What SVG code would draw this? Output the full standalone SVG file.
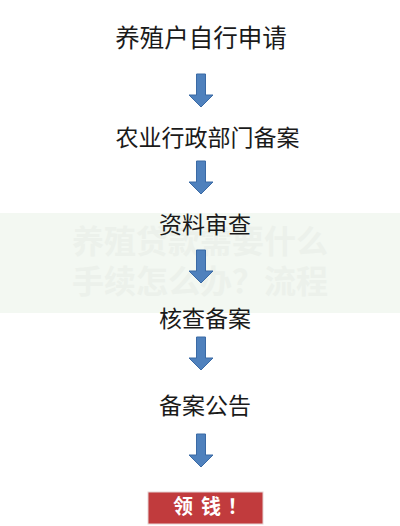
<svg xmlns="http://www.w3.org/2000/svg" width="400" height="526" viewBox="0 0 400 526">
  <style>
    .step { font-family: "Noto Sans CJK SC", "Noto Sans", sans-serif; font-size: 23px; fill: #1a1a1a; text-anchor: middle; }
    .arrow { fill: #4f81bd; stroke: #3a6aa5; stroke-width: 1; }
    .wm { font-family: "Noto Sans CJK SC", sans-serif; font-size: 32px; font-weight: bold; fill: #ecf1eb; text-anchor: middle; }
    .btn-text { font-family: "Noto Sans CJK SC", sans-serif; font-size: 20px; font-weight: bold; fill: #ffffff; }
  </style>
  <defs>
    <path id="arr" d="M -4.5 0 H 4.5 V 21 H 12 L 0 33 L -12 21 H -4.5 Z"/>
  </defs>
  <rect width="400" height="526" fill="#ffffff"/>

  <g id="watermark">
    <rect x="0" y="213" width="400" height="100" fill="#f3f8f2"/>
    <text class="wm" x="200" y="253">养殖贷款需要什么</text>
    <text class="wm" x="200" y="293">手续怎么办？流程</text>
  </g>

  <g id="connectors">
    <use href="#arr" class="arrow" x="201" y="74"/>
    <use href="#arr" class="arrow" x="201" y="161"/>
    <use href="#arr" class="arrow" x="201" y="250"/>
    <use href="#arr" class="arrow" x="201" y="337"/>
    <use href="#arr" class="arrow" x="201" y="434"/>
  </g>

  <g id="node1"><text class="step" x="201" y="46.5" style="font-size:24.5px">养殖户自行申请</text></g>
  <g id="node2"><text class="step" x="207.5" y="146">农业行政部门备案</text></g>
  <g id="node3"><text class="step" x="205" y="232.5">资料审查</text></g>
  <g id="node4"><text class="step" x="205" y="326.5">核查备案</text></g>
  <g id="node5"><text class="step" x="205" y="413.5">备案公告</text></g>

  <g id="node6">
    <rect x="148" y="492" width="115" height="32" fill="#c13b3d" stroke="#e6d4d4" stroke-width="1"/>
    <text class="btn-text" y="513.5"><tspan x="173">领</tspan><tspan x="201">钱</tspan><tspan x="227.5">！</tspan></text>
  </g>
</svg>
